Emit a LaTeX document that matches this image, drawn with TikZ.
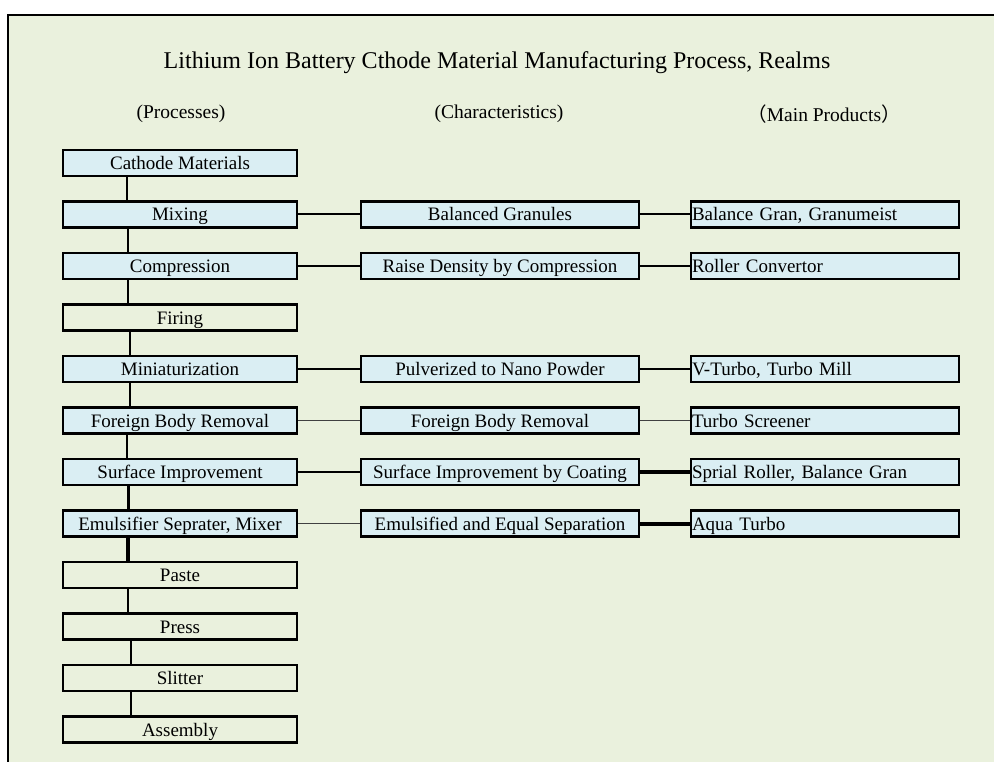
\documentclass[tikz,border=0pt]{standalone}
\usepackage{fontspec}
\setmainfont{Liberation Serif}
\newfontfamily\cjkfont{Noto Sans CJK JP}
\usepackage{xcolor}
\usepackage{tikz}
\definecolor{sheetgreen}{HTML}{EAF1DD}
\definecolor{cellblue}{HTML}{DAEEF3}
\tikzset{
procbox/.style={rectangle, draw=black!100,fill=cellblue,line width=2.2pt, inner sep=0pt, minimum width= 234pt, minimum height = 26pt, text height=15pt, text depth=2pt, font=\fontsize{19}{19}\selectfont},
plainbox/.style={rectangle, draw=black!100,fill=none,line width=2.2pt, inner sep=0pt, minimum width= 234pt, minimum height = 26pt, text height=15pt, text depth=2pt, font=\fontsize{19}{19}\selectfont},
charbox/.style={rectangle, draw=black!100,fill=cellblue,line width=2.2pt, inner sep=0pt, minimum width= 278pt, minimum height = 26pt, text height=15pt, text depth=2pt, font=\fontsize{19}{19}\selectfont},
prodbox/.style={rectangle, draw=black!100,fill=cellblue,line width=2.2pt, inner xsep=1pt, inner ysep=0pt, text width=266pt, align=left, minimum height = 26pt, text height=15pt, text depth=2pt, font=\fontsize{19}{19}\selectfont},
headtext/.style={inner sep=0pt, font=\fontsize{19.5}{19.5}\selectfont},
}

\begin{document}
\begin{tikzpicture}[x=1pt,y=-1pt]
    \useasboundingbox (0,0) rectangle (994,762);
    \fill[sheetgreen] (8,15) rectangle (994,762);
    \draw[line width=2.5pt,black] (8,762) -- (8,15) -- (994,15);

    \node[inner sep=0pt, font=\fontsize{24}{24}\selectfont] at (497,63) (title) {Lithium Ion Battery Cthode Material Manufacturing Process, Realms};
    \node[headtext] at (181,114) (headproc) {(Processes)};
    \node[headtext] at (499,114) (headchar) {(Characteristics)};
    \node[headtext] at (824,114) (headprod) {{\cjkfont （}Main Products{\cjkfont ）}};

    \node[procbox] at (180,163) (cathode) {Cathode Materials};
    \node[procbox] at (180,214.5) (mixing) {Mixing};
    \node[procbox] at (180,266) (compress) {Compression};
    \node[plainbox] at (180,317.5) (firing) {Firing};
    \node[procbox] at (180,369) (mini) {Miniaturization};
    \node[procbox] at (180,420.5) (foreign) {Foreign Body Removal};
    \node[procbox] at (180,472) (surface) {Surface Improvement};
    \node[procbox] at (180,523.5) (emulsify) {Emulsifier Seprater, Mixer};
    \node[plainbox] at (180,575) (paste) {Paste};
    \node[plainbox] at (180,626.5) (press) {Press};
    \node[plainbox] at (180,678) (slitter) {Slitter};
    \node[plainbox] at (180,729.5) (assembly) {Assembly};

    \node[charbox] at (500,214.5) (balgran) {Balanced Granules};
    \node[charbox] at (500,266) (density) {Raise Density by Compression};
    \node[charbox] at (500,369) (nano) {Pulverized to Nano Powder};
    \node[charbox] at (500,420.5) (removal) {Foreign Body Removal};
    \node[charbox] at (500,472) (coating) {Surface Improvement by Coating};
    \node[charbox] at (500,523.5) (separation) {Emulsified and Equal Separation};

    \node[prodbox] at (825,214.5) (granumeist) {Balance Gran, Granumeist};
    \node[prodbox] at (825,266) (roller) {Roller Convertor};
    \node[prodbox] at (825,369) (turbomill) {V-Turbo, Turbo Mill};
    \node[prodbox] at (825,420.5) (screener) {Turbo Screener};
    \node[prodbox] at (825,472) (sprial) {Sprial Roller, Balance Gran};
    \node[prodbox] at (825,523.5) (aqua) {Aqua Turbo};

     \draw[line width=2pt,black] ([xshift=-53pt]cathode.south) -- ([xshift=-53pt]mixing.north);
     \draw[line width=2pt,black] ([xshift=-52pt]mixing.south) -- ([xshift=-52pt]compress.north);
     \draw[line width=2pt,black] ([xshift=-52pt]compress.south) -- ([xshift=-52pt]firing.north);
     \draw[line width=2pt,black] ([xshift=-50pt]firing.south) -- ([xshift=-50pt]mini.north);
     \draw[line width=2pt,black] ([xshift=-50pt]mini.south) -- ([xshift=-50pt]foreign.north);
     \draw[line width=2pt,black] ([xshift=-53pt]foreign.south) -- ([xshift=-53pt]surface.north);
     \draw[line width=3pt,black] ([xshift=-52pt]surface.south) -- ([xshift=-52pt]emulsify.north);
     \draw[line width=3.5pt,black] ([xshift=-52pt]emulsify.south) -- ([xshift=-52pt]paste.north);
     \draw[line width=2pt,black] ([xshift=-52pt]paste.south) -- ([xshift=-52pt]press.north);
     \draw[line width=2pt,black] ([xshift=-49pt]press.south) -- ([xshift=-49pt]slitter.north);
     \draw[line width=2pt,black] ([xshift=-49pt]slitter.south) -- ([xshift=-49pt]assembly.north);

     \draw[line width=2pt,black] (mixing) -- (balgran);
     \draw[line width=2pt,black] (compress) -- (density);
     \draw[line width=2pt,black] (mini) -- (nano);
     \draw[line width=1.6pt,black!75] (foreign) -- (removal);
     \draw[line width=2pt,black] (surface) -- (coating);
     \draw[line width=1.6pt,black!75] (emulsify) -- (separation);

     \draw[line width=2pt,black] (balgran) -- (granumeist);
     \draw[line width=2pt,black] (density) -- (roller);
     \draw[line width=2.5pt,black] (nano) -- (turbomill);
     \draw[line width=1.6pt,black!75] (removal) -- (screener);
     \draw[line width=4pt,black] (coating) -- (sprial);
     \draw[line width=4pt,black] (separation) -- (aqua);
\end{tikzpicture}
\end{document}
